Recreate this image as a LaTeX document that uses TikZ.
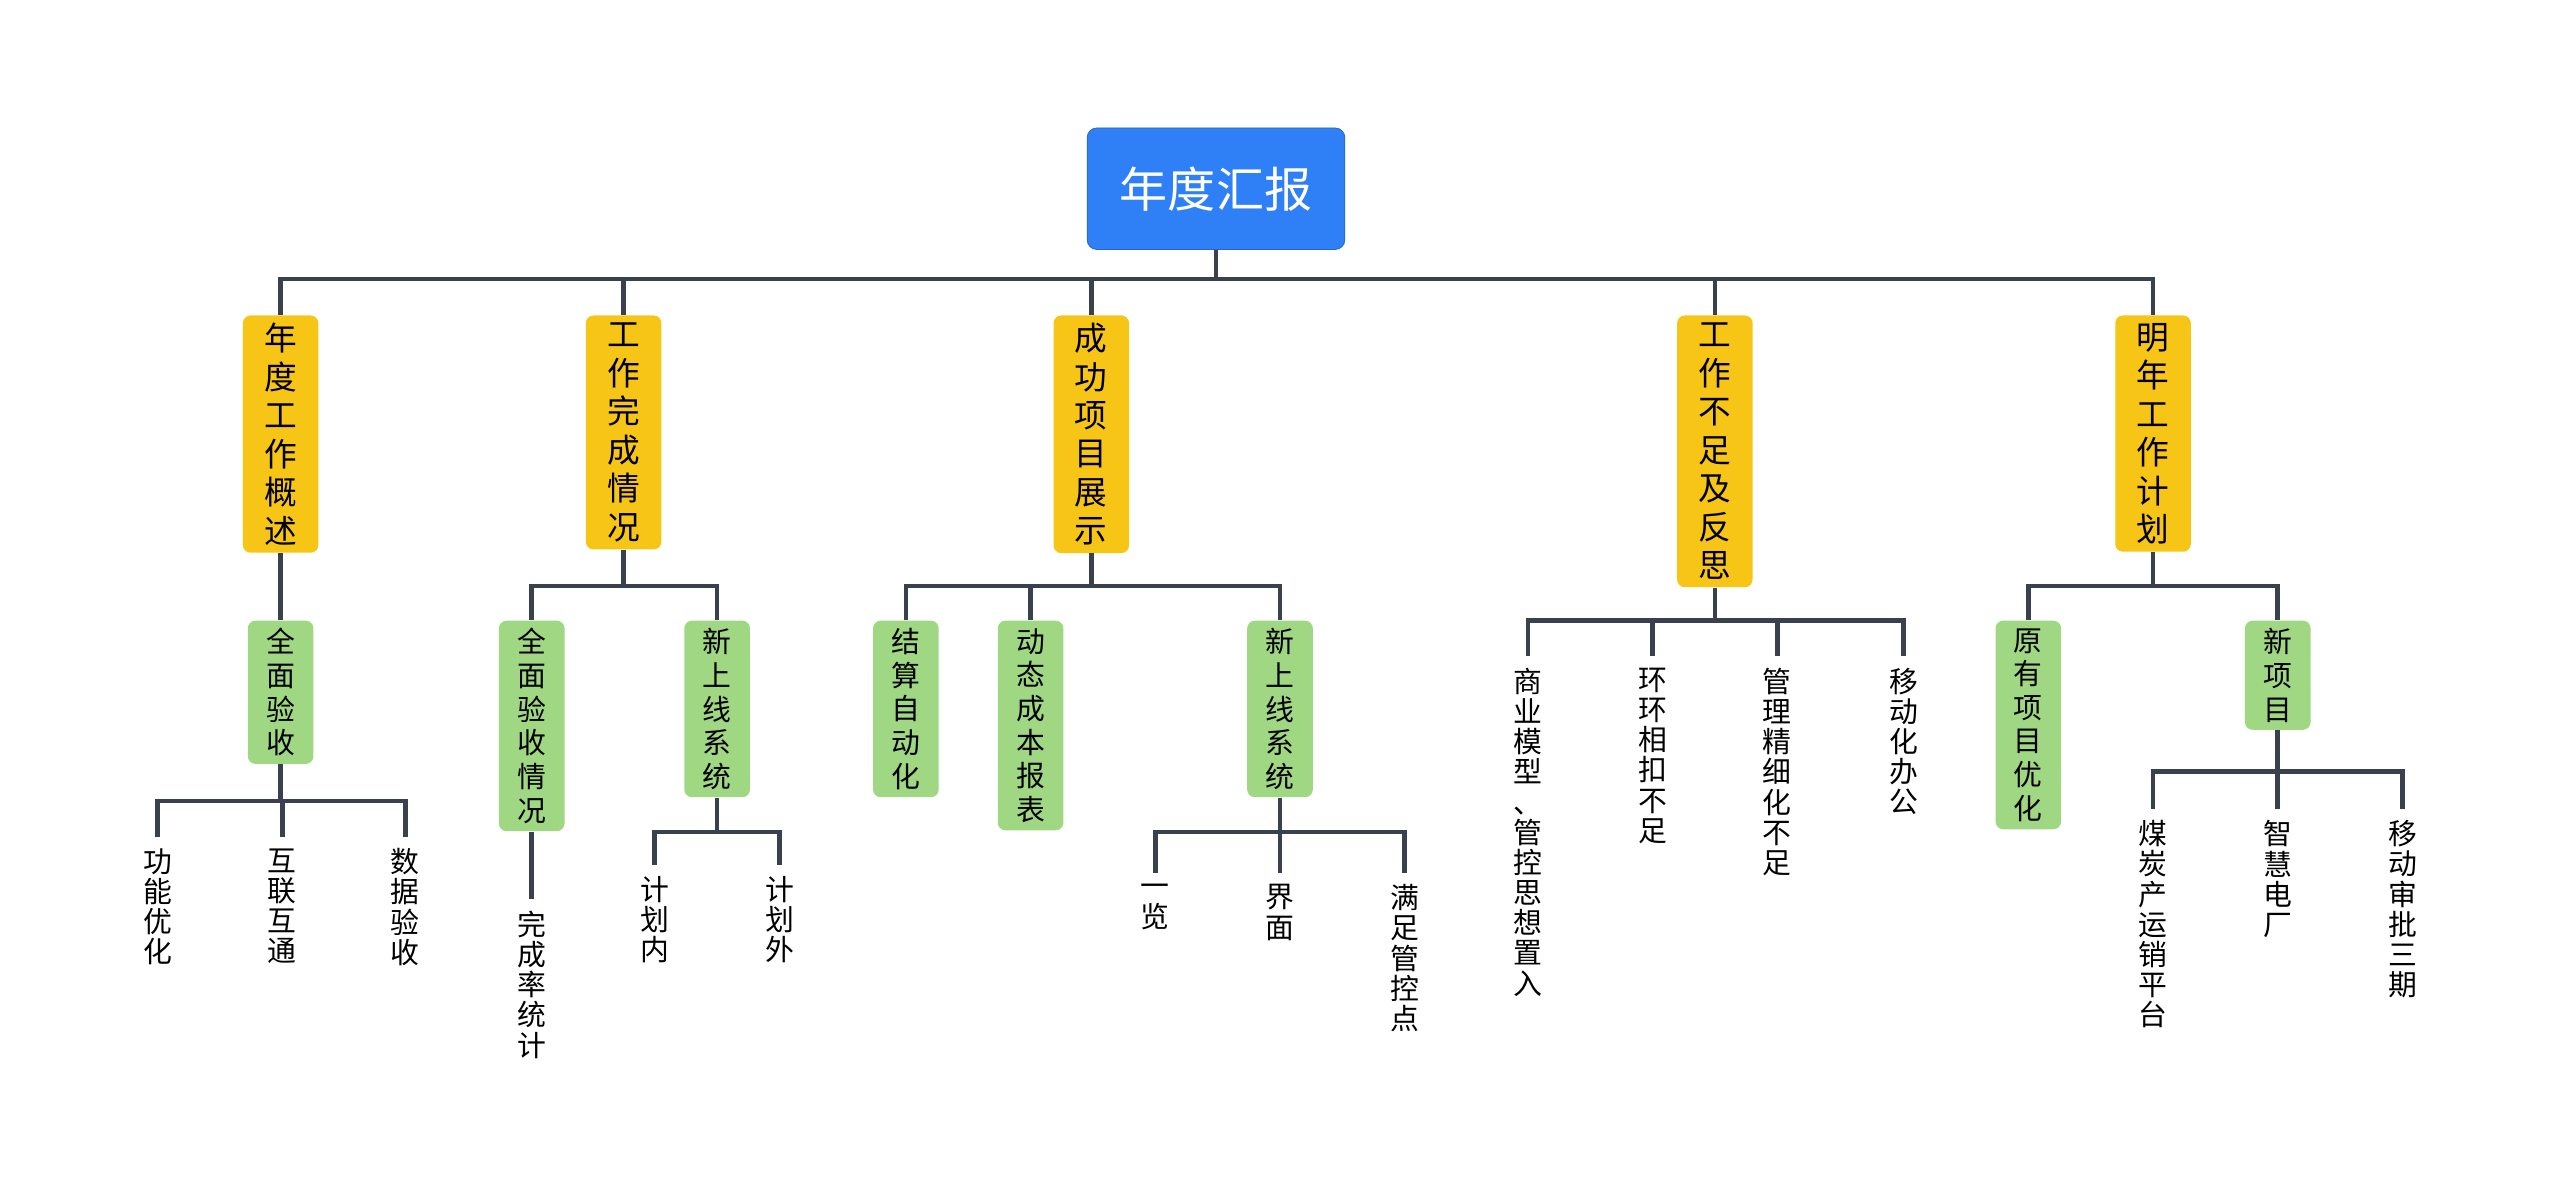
\documentclass[tikz,border=0pt]{standalone}
\usepackage{fontspec}
\setmainfont{Noto Sans CJK SC}
\usetikzlibrary{positioning}
\definecolor{rootblue}{HTML}{2F7FF7}
\definecolor{topyellow}{HTML}{F6C515}
\definecolor{subgreen}{HTML}{9FD782}
\definecolor{linkgray}{HTML}{39414F}
\tikzset{
  rootbox/.style={draw=rootblue!80!black, fill=rootblue, text=white, rounded corners=5pt,
    minimum width=157*0.03cm, minimum height=74*0.03cm, font=\fontsize{25}{28}\selectfont},
  topbox/.style={fill=topyellow, rounded corners=4pt, anchor=north, inner xsep=3pt, inner ysep=4pt,
    minimum width=46*0.03cm, align=center, font=\fontsize{17}{20}\selectfont},
  subbox/.style={fill=subgreen, rounded corners=4pt, anchor=north, inner xsep=3pt, inner ysep=4pt,
    minimum width=40*0.03cm, align=center, font=\fontsize{15}{17.5}\selectfont},
  leaf/.style={anchor=north, inner sep=0pt, outer sep=6pt, align=center, font=\fontsize{15}{15.7}\selectfont},
  link/.style={draw=linkgray, line width=2.4pt}
}
\begin{document}
\begin{tikzpicture}[x=0.03cm, y=-0.03cm]
  \useasboundingbox (4,0) rectangle (1564,731);
  % bus levels
  \coordinate (b1) at (0,170);
  \coordinate (b2) at (0,357);
  \coordinate (b3) at (0,378);
  \coordinate (b4) at (0,488);
  \coordinate (b5) at (0,507);
  \coordinate (b6) at (0,470);

  \node[rootbox] (root) at (745,115) {年度汇报};

  \node[topbox] (t1) at (175,192) {年\\度\\工\\作\\概\\述};
  \node[topbox] (t2) at (384,192) {工\\作\\完\\成\\情\\况};
  \node[topbox] (t3) at (669,192) {成\\功\\项\\目\\展\\示};
  \node[topbox] (t4) at (1049,192) {工\\作\\不\\足\\及\\反\\思};
  \node[topbox] (t5) at (1316,192) {明\\年\\工\\作\\计\\划};

  \node[subbox] (s1) at (175,378) {全\\面\\验\\收};
  \node[subbox] (s2) at (328,378) {全\\面\\验\\收\\情\\况};
  \node[subbox] (s3) at (441,378) {新\\上\\线\\系\\统};
  \node[subbox] (s4) at (556,378) {结\\算\\自\\动\\化};
  \node[subbox] (s5) at (632,378) {动\\态\\成\\本\\报\\表};
  \node[subbox] (s6) at (784,378) {新\\上\\线\\系\\统};
  \node[subbox] (s7) at (1240,378) {原\\有\\项\\目\\优\\化};
  \node[subbox] (s8) at (1392,378) {新\\项\\目};

  \node[leaf] (l1) at (935,400) {商\\业\\模\\型\\、\\管\\控\\思\\想\\置\\入};
  \node[leaf] (l2) at (1011,400) {环\\环\\相\\扣\\不\\足};
  \node[leaf] (l3) at (1087,400) {管\\理\\精\\细\\化\\不\\足};
  \node[leaf] (l4) at (1164,400) {移\\动\\化\\办\\公};

  \node[leaf] (m1) at (100,510) {功\\能\\优\\化};
  \node[leaf] (m2) at (176,510) {互\\联\\互\\通};
  \node[leaf] (m3) at (251,510) {数\\据\\验\\收};
  \node[leaf] (m4) at (328,548) {完\\成\\率\\统\\计};
  \node[leaf] (m5) at (403,527) {计\\划\\内};
  \node[leaf] (m6) at (479,527) {计\\划\\外};
  \node[leaf] (m7) at (708,532) {一\\览};
  \node[leaf] (m8) at (784,532) {界\\面};
  \node[leaf] (m9) at (860,532) {满\\足\\管\\控\\点};
  \node[leaf] (m10) at (1316,493) {煤\\炭\\产\\运\\销\\平\\台};
  \node[leaf] (m11) at (1392,493) {智\\慧\\电\\厂};
  \node[leaf] (m12) at (1468,493) {移\\动\\审\\批\\三\\期};

  % connectors
  \foreach \c in {t1,t2,t3,t4,t5}
    \draw[link] (root.south) |- (\c.north |- b1) -- (\c.north);
  \draw[link] (t1.south) -- (s1.north);
  \foreach \c in {s2,s3}
    \draw[link] (t2.south) |- (\c.north |- b2) -- (\c.north);
  \foreach \c in {s4,s5,s6}
    \draw[link] (t3.south) |- (\c.north |- b2) -- (\c.north);
  \foreach \c in {l1,l2,l3,l4}
    \draw[link] (t4.south) |- (\c.north |- b3) -- (\c.north);
  \foreach \c in {s7,s8}
    \draw[link] (t5.south) |- (\c.north |- b2) -- (\c.north);
  \foreach \c in {m1,m2,m3}
    \draw[link] (s1.south) |- (\c.north |- b4) -- (\c.north);
  \draw[link] (s2.south) -- (m4.north);
  \foreach \c in {m5,m6}
    \draw[link] (s3.south) |- (\c.north |- b5) -- (\c.north);
  \foreach \c in {m7,m8,m9}
    \draw[link] (s6.south) |- (\c.north |- b5) -- (\c.north);
  \foreach \c in {m10,m11,m12}
    \draw[link] (s8.south) |- (\c.north |- b6) -- (\c.north);
\end{tikzpicture}
\end{document}
